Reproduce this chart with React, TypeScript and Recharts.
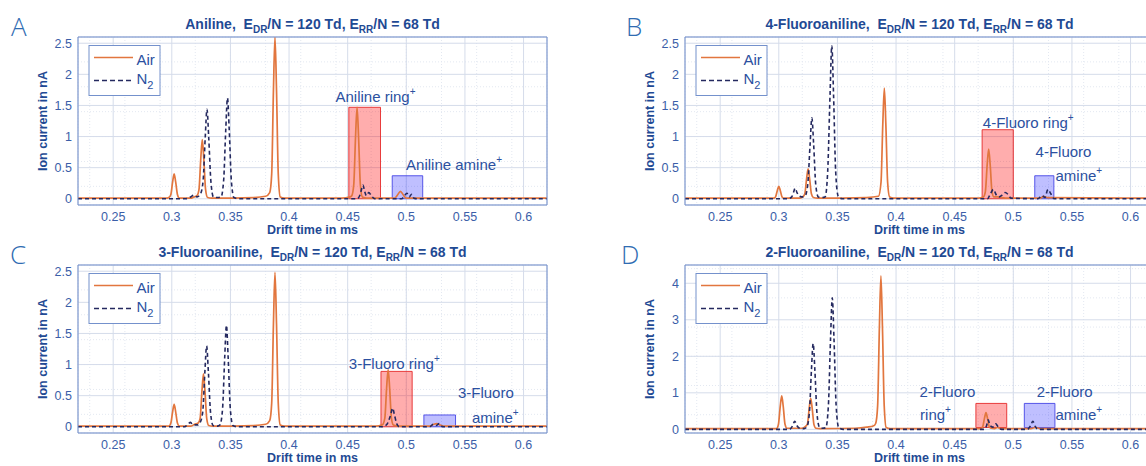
import React from "react";
import { ComposedChart, Line, XAxis, YAxis, CartesianGrid, ReferenceArea, ReferenceDot } from "recharts";

type Pt = [number, number];

// drift time in ms, ion current in nA
const airA: Pt[] = [
  [0.22, 0.01], [0.296, 0.01], [0.2975, 0.02], [0.2992, 0.07], [0.3007, 0.27], [0.302, 0.4], [0.3033, 0.27], [0.3048, 0.07], [0.3065, 0.01],
  [0.316, 0.01], [0.319, 0.03], [0.3215, 0.05], [0.3232, 0.15], [0.3247, 0.64], [0.326, 0.95], [0.3273, 0.64], [0.3288, 0.15], [0.3305, 0.02], [0.334, 0.01],
  [0.37, 0.02], [0.38, 0.04], [0.3835, 0.1], [0.3852, 0.4], [0.3867, 1.75], [0.388, 2.6], [0.3893, 1.75], [0.3908, 0.4], [0.3925, 0.03], [0.396, 0.01],
  [0.445, 0.01], [0.452, 0.03], [0.4535, 0.05], [0.4552, 0.23], [0.4567, 0.99], [0.458, 1.47], [0.4593, 0.99], [0.4608, 0.23], [0.4625, 0.03], [0.466, 0.01],
  [0.49, 0.01], [0.4925, 0.06], [0.495, 0.12], [0.4975, 0.06], [0.5, 0.01], [0.62, 0.01],
];
const n2A: Pt[] = [
  [0.22, 0], [0.312, 0], [0.316, 0.03], [0.319, 0.06], [0.3215, 0.03], [0.3245, 0.08], [0.3267, 0.29], [0.3285, 0.98], [0.33, 1.44], [0.3315, 0.98], [0.3333, 0.29], [0.3355, 0.03], [0.339, 0.02],
  [0.342, 0.03], [0.3442, 0.29], [0.346, 1.1], [0.3475, 1.62], [0.349, 1.1], [0.3508, 0.29], [0.353, 0.02], [0.357, 0],
  [0.458, 0], [0.4605, 0.06], [0.4618, 0.15], [0.463, 0.22], [0.4645, 0.12], [0.466, 0.05], [0.468, 0.1], [0.4705, 0.04], [0.473, 0],
  [0.496, 0], [0.4985, 0.05], [0.5005, 0.09], [0.5025, 0.03], [0.5045, 0.07], [0.5065, 0.01], [0.51, 0], [0.62, 0],
];

const airB: Pt[] = [
  [0.22, 0.01], [0.2955, 0.01], [0.2972, 0.03], [0.2987, 0.13], [0.3, 0.2], [0.3013, 0.13], [0.3028, 0.03], [0.3045, 0.01],
  [0.318, 0.01], [0.3205, 0.03], [0.3222, 0.08], [0.3237, 0.32], [0.325, 0.48], [0.3263, 0.32], [0.3278, 0.08], [0.3295, 0.02], [0.333, 0.01],
  [0.375, 0.02], [0.385, 0.04], [0.3872, 0.27], [0.3887, 1.2], [0.39, 1.78], [0.3913, 1.2], [0.3928, 0.27], [0.3945, 0.03], [0.398, 0.01],
  [0.4705, 0.01], [0.4745, 0.03], [0.4762, 0.12], [0.4777, 0.54], [0.479, 0.8], [0.4803, 0.54], [0.4818, 0.12], [0.4835, 0.03], [0.487, 0.03], [0.49, 0.02], [0.495, 0.01],
  [0.523, 0.01], [0.526, 0.04], [0.529, 0.02], [0.62, 0.01],
];
const n2B: Pt[] = [
  [0.22, 0], [0.308, 0], [0.311, 0.03], [0.3125, 0.1], [0.314, 0.17], [0.3155, 0.1], [0.317, 0.05], [0.3195, 0.03],
  [0.3225, 0.05], [0.3247, 0.23], [0.3267, 0.88], [0.3282, 1.3], [0.3297, 0.88], [0.3315, 0.23], [0.3337, 0.03], [0.3365, 0.02],
  [0.3395, 0.03], [0.3417, 0.44], [0.3437, 1.67], [0.3452, 2.46], [0.3467, 1.67], [0.3485, 0.44], [0.3507, 0.04], [0.354, 0],
  [0.478, 0], [0.4805, 0.08], [0.483, 0.15], [0.4855, 0.06], [0.488, 0.03], [0.4905, 0.06], [0.493, 0.1], [0.4955, 0.07], [0.498, 0.01],
  [0.521, 0], [0.5245, 0.05], [0.527, 0.02], [0.5295, 0.15], [0.532, 0.08], [0.535, 0], [0.62, 0],
];

const airC: Pt[] = [
  [0.22, 0.01], [0.2975, 0.01], [0.2992, 0.06], [0.3007, 0.24], [0.302, 0.36], [0.3033, 0.24], [0.3048, 0.06], [0.3065, 0.01],
  [0.316, 0.01], [0.3195, 0.04], [0.3225, 0.06], [0.3242, 0.14], [0.3257, 0.57], [0.327, 0.85], [0.3283, 0.57], [0.3298, 0.13], [0.3315, 0.02], [0.335, 0.01],
  [0.37, 0.02], [0.38, 0.04], [0.3835, 0.1], [0.3852, 0.38], [0.3867, 1.66], [0.388, 2.48], [0.3893, 1.66], [0.3908, 0.38], [0.3925, 0.03], [0.396, 0.01],
  [0.474, 0.01], [0.4795, 0.03], [0.4817, 0.14], [0.4832, 0.62], [0.4845, 0.92], [0.4858, 0.62], [0.4873, 0.14], [0.489, 0.03], [0.493, 0.01],
  [0.52, 0.01], [0.5235, 0.04], [0.526, 0.05], [0.5285, 0.03], [0.532, 0.01], [0.62, 0.01],
];
const n2C: Pt[] = [
  [0.22, 0], [0.311, 0], [0.314, 0.05], [0.316, 0.07], [0.318, 0.03], [0.322, 0.03],
  [0.3242, 0.07], [0.3264, 0.24], [0.3282, 0.88], [0.3297, 1.3], [0.3312, 0.88], [0.333, 0.24], [0.3352, 0.02], [0.339, 0.01],
  [0.3411, 0.03], [0.3433, 0.29], [0.3451, 1.1], [0.3466, 1.63], [0.3481, 1.1], [0.3499, 0.29], [0.3521, 0.02], [0.356, 0],
  [0.48, 0], [0.4835, 0.04], [0.485, 0.1], [0.4868, 0.2], [0.4883, 0.3], [0.4898, 0.2], [0.4918, 0.05], [0.494, 0],
  [0.52, 0], [0.523, 0.04], [0.5255, 0.02], [0.528, 0.05], [0.531, 0], [0.62, 0],
];

const airD: Pt[] = [
  [0.22, 0.02], [0.298, 0.02], [0.2997, 0.14], [0.3012, 0.62], [0.3025, 0.92], [0.3038, 0.62], [0.3053, 0.14], [0.307, 0.03],
  [0.3198, 0.03], [0.322, 0.06], [0.3244, 0.14], [0.3259, 0.57], [0.3272, 0.85], [0.3285, 0.57], [0.33, 0.13], [0.3317, 0.03], [0.335, 0.02],
  [0.365, 0.03], [0.375, 0.06], [0.381, 0.1], [0.3826, 0.16], [0.3843, 0.65], [0.3858, 2.8], [0.3871, 4.2], [0.3884, 2.8], [0.3899, 0.65], [0.3916, 0.05], [0.395, 0.02],
  [0.472, 0.02], [0.4739, 0.07], [0.4754, 0.3], [0.4767, 0.46], [0.478, 0.3], [0.4795, 0.07], [0.4812, 0.03], [0.484, 0.02], [0.4865, 0.05], [0.489, 0.02],
  [0.515, 0.02], [0.519, 0.05], [0.523, 0.02], [0.62, 0.02],
];
const n2D: Pt[] = [
  [0.22, 0], [0.309, 0], [0.3115, 0.08], [0.3136, 0.22], [0.3155, 0.1], [0.318, 0.03], [0.3215, 0.02],
  [0.3238, 0.06], [0.326, 0.42], [0.3278, 1.6], [0.3293, 2.35], [0.3308, 1.6], [0.3326, 0.42], [0.3348, 0.05], [0.3375, 0.03],
  [0.3401, 0.05], [0.3423, 0.65], [0.3441, 2.45], [0.3456, 3.6], [0.3471, 2.45], [0.3489, 0.65], [0.3511, 0.05], [0.355, 0],
  [0.475, 0], [0.4772, 0.1], [0.4786, 0.26], [0.48, 0.12], [0.4825, 0.06], [0.485, 0.15], [0.4875, 0.05], [0.49, 0],
  [0.512, 0], [0.5147, 0.1], [0.5167, 0.22], [0.5187, 0.08], [0.521, 0], [0.62, 0],
];

// [x1, x2, y1, y2] of the shaded ion windows
const ringA = [0.451, 0.478, 0, 1.47];
const amineA = [0.488, 0.514, 0, 0.37];
const ringB = [0.4734, 0.5, 0, 1.11];
const amineB = [0.5183, 0.5346, 0, 0.37];
const ringC = [0.4784, 0.505, 0, 0.89];
const amineC = [0.515, 0.542, 0, 0.19];
const ringD = [0.4681, 0.4944, 0.05, 0.71];
const amineD = [0.5094, 0.5355, 0.05, 0.71];

type Note = { t: number; y: number; text: string; sup: boolean };
const notesA: Note[] = [
  { t: 0.4396, y: 1.55, text: "Aniline ring", sup: true },
  { t: 0.4998, y: 0.46, text: "Aniline amine", sup: true },
];
const notesB: Note[] = [
  { t: 0.474, y: 1.13, text: "4-Fluoro ring", sup: true },
  { t: 0.519, y: 0.67, text: "4-Fluoro", sup: false },
  { t: 0.536, y: 0.29, text: "amine", sup: true },
];
const notesC: Note[] = [
  { t: 0.451, y: 0.93, text: "3-Fluoro ring", sup: true },
  { t: 0.544, y: 0.46, text: "3-Fluoro", sup: false },
  { t: 0.556, y: 0.06, text: "amine", sup: true },
];
const notesD: Note[] = [
  { t: 0.42, y: 0.89, text: "2-Fluoro", sup: false },
  { t: 0.4205, y: 0.25, text: "ring", sup: true },
  { t: 0.52, y: 0.89, text: "2-Fluoro", sup: false },
  { t: 0.536, y: 0.25, text: "amine", sup: true },
];

const xTicks = [0.25, 0.3, 0.35, 0.4, 0.45, 0.5, 0.55, 0.6];
const xMinor = [0.22, 0.23, 0.24, 0.25, 0.26, 0.27, 0.28, 0.29, 0.3, 0.31, 0.32, 0.33, 0.34, 0.35, 0.36, 0.37, 0.38, 0.39, 0.4, 0.41,
  0.42, 0.43, 0.44, 0.45, 0.46, 0.47, 0.48, 0.49, 0.5, 0.51, 0.52, 0.53, 0.54, 0.55, 0.56, 0.57, 0.58, 0.59, 0.6, 0.61, 0.62];
const yTicks = [0, 0.5, 1, 1.5, 2, 2.5];
const yMinor = [-0.1, 0, 0.1, 0.2, 0.3, 0.4, 0.5, 0.6, 0.7, 0.8, 0.9, 1, 1.1, 1.2, 1.3, 1.4, 1.5, 1.6, 1.7, 1.8, 1.9, 2, 2.1, 2.2, 2.3, 2.4, 2.5, 2.6];
const yTicksD = [0, 1, 2, 3, 4];
const yMinorD = [0, 0.2, 0.4, 0.6, 0.8, 1, 1.2, 1.4, 1.6, 1.8, 2, 2.2, 2.4, 2.6, 2.8, 3, 3.2, 3.4, 3.6, 3.8, 4, 4.2, 4.4];

const FONT = "'Liberation Sans', Arial, Helvetica, sans-serif";
const AXIS = "#7491cc";
const TICK = "#3b5ea8";
const TITLE = "#1f4a94";
const TEXT = "#2b50a0";
const GRID = "#d5dcea";
const MINOR = "#e3e8f1";
const AIR = "#e2763e";
const N2 = "#24295f";

const toRows = (pts: Pt[]) => pts.map(([t, y]) => ({ t, y }));

const W = 560;
const H = 240;
const X_DOMAIN: [number, number] = [0.22, 0.62];

function Note({ cx, cy, text, sup }: any) {
  return (
    <text x={cx} y={cy} fill={TEXT} fontSize={15} fontFamily={FONT}>
      {text}
      {sup && <tspan dy={-7} fontSize={10}>+</tspan>}
    </text>
  );
}

function Panel(props: any) {
  const { left, top, letter, letterX, name, air, n2, ring, amine, notes, yDomain, ticks, minor } = props;
  const tickStyle = { fill: TICK, fontSize: 12.5, fontFamily: FONT };
  return (
    <div style={{ position: "absolute", left, top, width: W, height: H }}>
      <ComposedChart width={W} height={H} margin={{ top: 37, right: 13, bottom: 0, left: 0 }}>
        <XAxis xAxisId="xm" type="number" dataKey="t" domain={X_DOMAIN} ticks={xMinor} allowDataOverflow hide />
        <YAxis yAxisId="ym" type="number" domain={yDomain} ticks={minor} allowDataOverflow hide />
        <CartesianGrid xAxisId="xm" yAxisId="ym" stroke={MINOR} strokeDasharray="1 2" />
        <XAxis
          xAxisId="x" type="number" dataKey="t" domain={X_DOMAIN} ticks={xTicks} allowDataOverflow interval={0}
          height={35} tickLine={false} tickSize={0} tickMargin={7} axisLine={{ stroke: AXIS }} tick={tickStyle}
        />
        <YAxis
          yAxisId="y" type="number" domain={yDomain} ticks={ticks} allowDataOverflow interval={0}
          width={78} tickLine={false} tickSize={0} tickMargin={6} axisLine={{ stroke: AXIS }} tick={tickStyle}
        />
        <CartesianGrid xAxisId="x" yAxisId="y" stroke={GRID} />
        <XAxis xAxisId="xin" type="number" domain={X_DOMAIN} ticks={xTicks} allowDataOverflow mirror tick={false} axisLine={false} tickSize={5} tickLine={{ stroke: AXIS }} />
        <XAxis xAxisId="xtop" orientation="top" type="number" domain={X_DOMAIN} ticks={xTicks} allowDataOverflow mirror tick={false} tickSize={5} axisLine={{ stroke: AXIS }} tickLine={{ stroke: AXIS }} />
        <YAxis yAxisId="yin" type="number" domain={yDomain} ticks={ticks} allowDataOverflow mirror tick={false} axisLine={false} tickSize={5} tickLine={{ stroke: AXIS }} />
        <YAxis yAxisId="yr" orientation="right" type="number" domain={yDomain} ticks={ticks} allowDataOverflow mirror tick={false} tickSize={5} axisLine={{ stroke: AXIS }} tickLine={{ stroke: AXIS }} />
        <Line xAxisId="x" yAxisId="y" data={toRows(air)} dataKey="y" type="monotone" stroke={AIR} strokeWidth={1.7} dot={false} isAnimationActive={false} />
        <Line xAxisId="x" yAxisId="y" data={toRows(n2)} dataKey="y" type="monotone" stroke={N2} strokeWidth={1.6} strokeDasharray="4 3" dot={false} isAnimationActive={false} />
        <ReferenceArea xAxisId="x" yAxisId="y" x1={ring[0]} x2={ring[1]} y1={ring[2]} y2={ring[3]} fill="#ff0000" fillOpacity={0.32} stroke="#e52b2b" strokeOpacity={0.9} />
        <ReferenceArea xAxisId="x" yAxisId="y" x1={amine[0]} x2={amine[1]} y1={amine[2]} y2={amine[3]} fill="#1a1aff" fillOpacity={0.28} stroke="#4646e6" strokeOpacity={0.9} />
        {notes.map((n: Note, i: number) => (
          <ReferenceDot key={i} xAxisId="x" yAxisId="y" x={n.t} y={n.y} r={0} ifOverflow="visible"
            shape={(p: any) => <Note cx={p.cx} cy={p.cy} text={n.text} sup={n.sup} />} />
        ))}
      </ComposedChart>
      <svg width={W} height={H} style={{ position: "absolute", left: 0, top: 0, pointerEvents: "none", overflow: "visible" }} fontFamily={FONT}>
        <text x={letterX} y={36} fontSize={26} fill="#2f6cb2" fontFamily="'Open Sans', 'DejaVu Sans', sans-serif" fontWeight={300}>{letter}</text>
        <text x={312.5} y={29} textAnchor="middle" fill={TITLE} fontSize={14} fontWeight="bold" style={{ whiteSpace: "pre" }}>
          {name + ",  E"}
          <tspan dy={4} fontSize={10}>DR</tspan>
          <tspan dy={-4}>/N = 120 Td, E</tspan>
          <tspan dy={4} fontSize={10}>RR</tspan>
          <tspan dy={-4}>/N = 68 Td</tspan>
        </text>
        <text x={312.5} y={234} textAnchor="middle" fill={TITLE} fontSize={12.5} fontWeight="bold">Drift time in ms</text>
        <text transform="translate(46.5, 121) rotate(-90)" textAnchor="middle" fill={TITLE} fontSize={12.5} fontWeight="bold">Ion current in nA</text>
        <g transform="translate(89, 45.5)">
          <rect x={0} y={0} width={71} height={50} fill="#ffffff" stroke={AXIS} />
          <line x1={5} x2={44} y1={12} y2={12} stroke={AIR} strokeWidth={1.5} />
          <text x={47.5} y={19.5} fontSize={15} fill={TEXT}>Air</text>
          <line x1={5} x2={44} y1={35} y2={35} stroke={N2} strokeWidth={1.5} strokeDasharray="5 3" />
          <text x={47.5} y={38} fontSize={15} fill={TEXT}>N<tspan dy={5} fontSize={11}>2</tspan></text>
        </g>
      </svg>
    </div>
  );
}

export default function App() {
  return (
    <div style={{ position: "fixed", left: 0, top: 0, width: 1146, height: 466, overflow: "hidden", background: "#ffffff" }}>
      <Panel left={0} top={0} letter="A" letterX={11} name="Aniline" air={airA} n2={n2A} ring={ringA} amine={amineA}
        notes={notesA} yDomain={[-0.1, 2.6]} ticks={yTicks} minor={yMinor} />
      <Panel left={607} top={0} letter="B" letterX={19} name="4-Fluoroaniline" air={airB} n2={n2B} ring={ringB} amine={amineB}
        notes={notesB} yDomain={[-0.1, 2.6]} ticks={yTicks} minor={yMinor} />
      <Panel left={0} top={228} letter="C" letterX={10} name="3-Fluoroaniline" air={airC} n2={n2C} ring={ringC} amine={amineC}
        notes={notesC} yDomain={[-0.1, 2.6]} ticks={yTicks} minor={yMinor} />
      <Panel left={607} top={228} letter="D" letterX={14} name="2-Fluoroaniline" air={airD} n2={n2D} ring={ringD} amine={amineD}
        notes={notesD} yDomain={[-0.1, 4.5]} ticks={yTicksD} minor={yMinorD} />
    </div>
  );
}
